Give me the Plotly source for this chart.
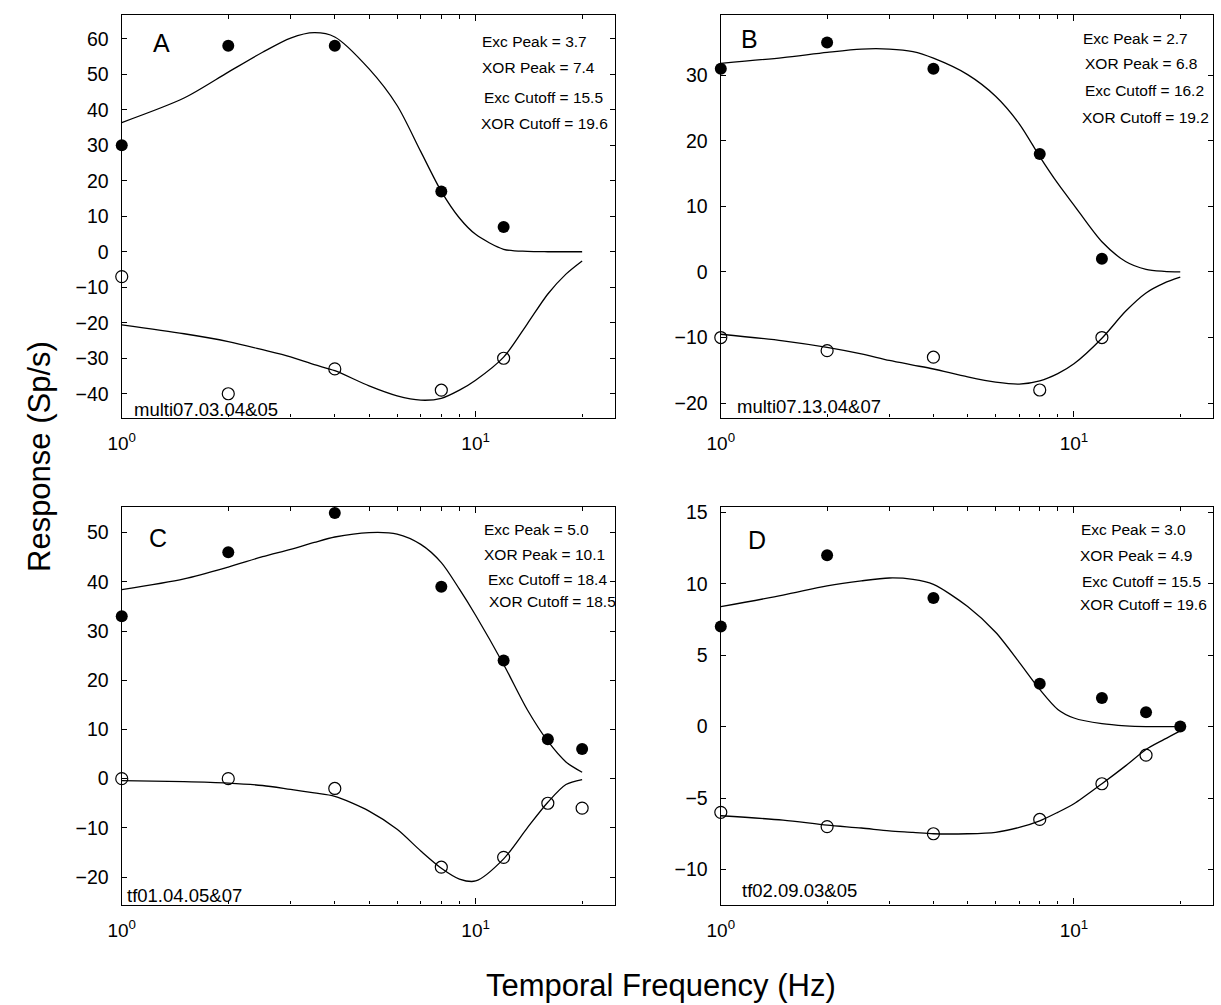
import plotly.graph_objects as go

# ---------------- data ----------------
panel_names = ["A", "B", "C", "D"]
panel_ids = ["multi07.03.04&05", "multi07.13.04&07", "tf01.04.05&07", "tf02.09.03&05"]

stats_A = ["Exc Peak = 3.7", "XOR Peak = 7.4", "Exc Cutoff = 15.5", "XOR Cutoff = 19.6"]
stats_B = ["Exc Peak = 2.7", "XOR Peak = 6.8", "Exc Cutoff = 16.2", "XOR Cutoff = 19.2"]
stats_C = ["Exc Peak = 5.0", "XOR Peak = 10.1", "Exc Cutoff = 18.4", "XOR Cutoff = 18.5"]
stats_D = ["Exc Peak = 3.0", "XOR Peak = 4.9", "Exc Cutoff = 15.5", "XOR Cutoff = 19.6"]

# measured points
freq_AB = [1, 2, 4, 8, 12]
freq_CD = [1, 2, 4, 8, 12, 16, 20]
freq_D_xor = [1, 2, 4, 8, 12, 16]

exc_A = [30, 58, 58, 17, 7]
xor_A = [-7, -40, -33, -39, -30]
exc_B = [31, 35, 31, 18, 2]
xor_B = [-10, -12, -13, -18, -10]
exc_C = [33, 46, 54, 39, 24, 8, 6]
xor_C = [0, 0, -2, -18, -16, -5, -6]
exc_D = [7, 12, 9, 3, 2, 1, 0]
xor_D = [-6, -7, -7.5, -6.5, -4, -2]

# fitted curves
fit_freq = [1, 1.5, 2, 2.5, 3, 3.5, 4, 5, 6, 7, 8, 9, 10, 12, 14, 16, 18, 20]
fit_exc_A = [36.4, 43.3, 50.6, 56.2, 60.2, 61.7, 60.5, 51.5, 41.2, 28.2, 17.0, 9.5, 4.9, 0.7, 0.1, 0, 0, 0]
fit_xor_A = [-20.6, -23.1, -25.3, -27.6, -29.6, -31.8, -33.5, -37.8, -40.6, -41.8, -41.3, -39.0, -36.2, -29.7, -20.3, -11.9, -6.3, -2.6]
fit_exc_B = [31.8, 32.7, 33.5, 34.0, 34.0, 33.6, 32.6, 30.1, 26.8, 22.6, 17.6, 13.5, 10.2, 4.6, 1.6, 0.4, 0.1, 0.0]
fit_xor_B = [-9.5, -10.5, -11.5, -12.5, -13.5, -14.2, -14.8, -16.0, -16.8, -17.1, -16.6, -15.5, -14.0, -10.1, -6.0, -3.2, -1.7, -0.8]
fit_exc_C = [38.4, 40.6, 43.0, 45.1, 46.6, 48.0, 49.1, 50.0, 49.7, 47.6, 43.9, 38.5, 33.2, 23.2, 14.0, 7.6, 3.4, 1.3]
fit_xor_C = [-0.4, -0.6, -0.9, -1.4, -2.2, -2.9, -3.6, -6.6, -10.3, -14.7, -18.2, -20.4, -20.8, -16.3, -10.0, -4.8, -1.2, -0.2]
fit_exc_D = [8.39, 9.2, 9.85, 10.2, 10.4, 10.3, 9.95, 8.4, 6.6, 4.5, 2.6, 1.2, 0.6, 0.2, 0.05, 0, 0, 0]
fit_xor_D = [-6.24, -6.55, -6.9, -7.1, -7.3, -7.4, -7.5, -7.5, -7.4, -7.06, -6.6, -6.0, -5.4, -4.0, -2.75, -1.6, -0.9, -0.3]

y_ticks_A = [-40, -30, -20, -10, 0, 10, 20, 30, 40, 50, 60]
y_ticks_B = [-20, -10, 0, 10, 20, 30]
y_ticks_C = [-20, -10, 0, 10, 20, 30, 40, 50]
y_ticks_D = [-10, -5, 0, 5, 10, 15]
x_major = [1, 10]
x_major_text = ["10<sup>0</sup>", "10<sup>1</sup>"]
x_minor = [2, 3, 4, 5, 6, 7, 8, 9, 20]

# ---------------- layout geometry (pixels) ----------------
W, H = 1221, 1005
FONT = "Liberation Sans, Arial, sans-serif"
XRANGE = [0, 1.394]

panels = [
    dict(name="A", id=panel_ids[0], stats=stats_A, fx=freq_AB, exc=exc_A, fxo=freq_AB, xor=xor_A,
         fe=fit_exc_A, fo=fit_xor_A, yt=y_ticks_A, yr=[-46.7, 66.7], box=(109, 608, 9, 414),
         letter=(139, 37), idpos=(119, 406),
         spos=[(471, 36), (471, 62), (473, 92), (470, 118)]),
    dict(name="B", id=panel_ids[1], stats=stats_B, fx=freq_AB, exc=exc_B, fxo=freq_AB, xor=xor_B,
         fe=fit_exc_B, fo=fit_xor_B, yt=y_ticks_B, yr=[-22.2, 39.2], box=(715, 1213, 9, 414),
         letter=(733, 33), idpos=(729, 403),
         spos=[(1079, 33), (1081, 58), (1081, 85), (1078, 112)]),
    dict(name="C", id=panel_ids[2], stats=stats_C, fx=freq_CD, exc=exc_C, fxo=freq_CD, xor=xor_C,
         fe=fit_exc_C, fo=fit_xor_C, yt=y_ticks_C, yr=[-25.6, 55.2], box=(109, 608, 504, 904),
         letter=(135, 535), idpos=(112, 895),
         spos=[(473, 527), (473, 552), (477, 577), (478, 599)]),
    dict(name="D", id=panel_ids[3], stats=stats_D, fx=freq_CD, exc=exc_D, fxo=freq_D_xor, xor=xor_D,
         fe=fit_exc_D, fo=fit_xor_D, yt=y_ticks_D, yr=[-12.46, 15.37], box=(715, 1213, 504, 904),
         letter=(740, 537), idpos=(734, 890),
         spos=[(1077, 527), (1076, 553), (1078, 579), (1076, 602)]),
]

fig = go.Figure()
annotations = []
line = dict(color="black", width=1.3, shape="spline", smoothing=0.8)

for i, p in enumerate(panels):
    k = "" if i == 0 else str(i + 1)
    km = str(i + 5)  # overlay axis for minor ticks
    xa, ya = "x" + k, "y" + k
    l, r, t, b = p["box"]
    fig.add_trace(go.Scatter(x=fit_freq, y=p["fe"], mode="lines", line=line,
                             xaxis=xa, yaxis=ya, showlegend=False, hoverinfo="skip"))
    fig.add_trace(go.Scatter(x=fit_freq, y=p["fo"], mode="lines", line=line,
                             xaxis=xa, yaxis=ya, showlegend=False, hoverinfo="skip"))
    fig.add_trace(go.Scatter(x=p["fx"], y=p["exc"], mode="markers", cliponaxis=False,
                             marker=dict(symbol="circle", size=12, color="black"),
                             xaxis=xa, yaxis=ya, showlegend=False))
    fig.add_trace(go.Scatter(x=p["fxo"], y=p["xor"], mode="markers", cliponaxis=False,
                             marker=dict(symbol="circle-open", size=12, color="black", line=dict(width=1.2)),
                             xaxis=xa, yaxis=ya, showlegend=False))
    # invisible trace to materialise the minor-tick overlay axis
    fig.add_trace(go.Scatter(x=[1], y=[0], mode="markers", marker=dict(opacity=0),
                             xaxis="x" + km, yaxis=ya, showlegend=False, hoverinfo="skip"))

    xdom = [l / W, r / W]
    ydom = [1 - b / H, 1 - t / H]
    fig.update_layout(**{
        "xaxis" + k: dict(domain=xdom, type="log", range=XRANGE, anchor=ya,
                          tickmode="array", tickvals=x_major, ticktext=x_major_text,
                          ticks="inside", ticklen=6, tickwidth=1.2, tickcolor="black",
                          showline=True, linecolor="black", linewidth=1.4, mirror="ticks",
                          showgrid=False, zeroline=False, ticklabelstandoff=8,
                          tickfont=dict(family=FONT, size=19, color="black")),
        "xaxis" + km: dict(domain=xdom, type="log", range=XRANGE, anchor=ya, overlaying=xa,
                           tickmode="array", tickvals=x_minor, showticklabels=False,
                           ticks="inside", ticklen=3.5, tickwidth=1, tickcolor="black",
                           showline=True, linecolor="black", linewidth=1.4, mirror="ticks",
                           showgrid=False, zeroline=False),
        "yaxis" + k: dict(domain=ydom, range=p["yr"], anchor=xa,
                          tickmode="array", tickvals=p["yt"],
                          ticks="inside", ticklen=5, tickwidth=1.2, tickcolor="black",
                          showline=True, linecolor="black", linewidth=1.4, mirror="ticks",
                          showgrid=False, zeroline=False, ticklabelstandoff=8,
                          tickfont=dict(family=FONT, size=19.5, color="black")),
    })

    lx, ly = p["letter"]
    annotations.append(dict(text=p["name"], xref="paper", yref="paper",
                            x=lx / W, y=1 - ly / H, xanchor="left", yanchor="middle",
                            showarrow=False, font=dict(family=FONT, size=25, color="black")))
    ix, iy = p["idpos"]
    annotations.append(dict(text=p["id"], xref="paper", yref="paper",
                            x=ix / W, y=1 - iy / H, xanchor="left", yanchor="middle",
                            showarrow=False, font=dict(family=FONT, size=18.5, color="black")))
    for s, (sx, sy) in zip(p["stats"], p["spos"]):
        annotations.append(dict(text=s, xref="paper", yref="paper",
                                x=sx / W, y=1 - sy / H, xanchor="left", yanchor="middle",
                                showarrow=False, font=dict(family=FONT, size=15.5, color="black")))

annotations.append(dict(text="Response (Sp/s)", xref="paper", yref="paper",
                        x=26 / W, y=1 - 453 / H, textangle=-90, xanchor="center", yanchor="middle",
                        showarrow=False, font=dict(family=FONT, size=31, color="black")))
annotations.append(dict(text="Temporal Frequency (Hz)", xref="paper", yref="paper",
                        x=654 / W, y=1 - 985 / H, xanchor="center", yanchor="middle",
                        showarrow=False, font=dict(family=FONT, size=31, color="black")))

fig.update_layout(width=W, height=H, margin=dict(l=0, r=0, t=0, b=0),
                  paper_bgcolor="white", plot_bgcolor="white",
                  annotations=annotations, font=dict(family=FONT, color="black"))

fig.write_html("out.html", config={"displayModeBar": False},
               post_script="document.body.style.margin='0';document.body.style.overflow='hidden';")
